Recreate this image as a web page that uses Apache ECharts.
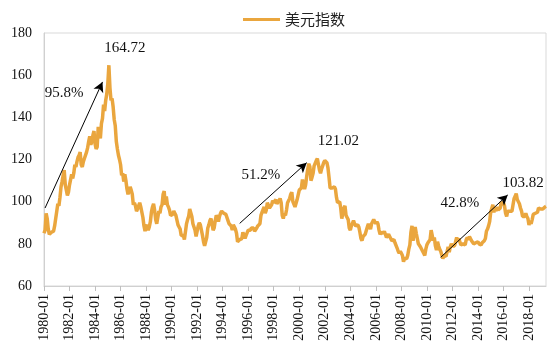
<!DOCTYPE html>
<html>
<head>
<meta charset="utf-8">
<script src="https://cdn.jsdelivr.net/npm/echarts@6/dist/echarts.min.js"></script>
<style>
  html, body { margin: 0; padding: 0; background: #fff; }
  #chart { width: 555px; height: 347px; }
</style>
</head>
<body>
<div id="chart"></div>
<script>
// US Dollar Index, monthly readings from 1980-01 to 2019-05
const seriesName = '美元指数';
const startYear = 1980;
const dxyValues = [
  85.0, 86.5, 94.5, 92.0, 87.0, 84.5, 84.3, 85.5, 85.0, 86.0, 88.5, 92.0,      // 1980
  95.5, 99.0, 98.0, 102.0, 107.0, 109.5, 112.5, 115.0, 108.0, 105.5, 103.0, 104.5, // 1981
  108.0, 110.5, 113.0, 111.0, 113.5, 117.5, 116.5, 119.0, 121.0, 122.0, 123.5, 117.5, // 1982
  116.5, 119.0, 120.5, 121.0, 123.5, 125.5, 128.5, 131.0, 127.0, 128.5, 131.5, 133.5, // 1983
  127.5, 125.0, 126.0, 135.5, 133.0, 130.0, 137.0, 139.5, 146.0, 143.0, 148.0, 151.0, // 1984
  156.0, 164.72, 154.0, 148.0, 149.0, 145.0, 139.0, 136.0, 128.5, 125.0, 122.0, 120.0, // 1985
  117.5, 112.5, 113.5, 109.5, 113.0, 110.0, 106.0, 103.5, 105.0, 107.0, 105.5, 103.5, // 1986
  98.5, 99.5, 98.0, 95.5, 96.5, 98.0, 99.5, 97.5, 97.5, 92.5, 88.5, 86.0,       // 1987
  88.0, 89.0, 86.5, 88.0, 90.5, 95.0, 97.5, 99.0, 96.0, 91.5, 89.5, 92.5,       // 1988
  95.5, 94.5, 97.5, 98.5, 103.5, 105.0, 98.5, 102.5, 98.5, 97.5, 96.0, 93.5,    // 1989
  93.0, 94.0, 95.5, 94.5, 93.5, 93.0, 89.0, 88.0, 87.0, 84.0, 83.5, 84.0,       // 1990
  82.0, 81.5, 89.5, 91.5, 93.0, 96.5, 97.0, 93.0, 89.5, 89.0, 86.5, 83.5,       // 1991
  86.0, 88.5, 90.0, 89.0, 86.5, 84.0, 81.0, 79.0, 78.5, 83.0, 87.5, 89.0,       // 1992
  91.0, 92.0, 89.5, 86.5, 87.5, 91.0, 93.5, 92.5, 90.5, 93.0, 94.5, 95.5,       // 1993
  96.0, 94.5, 95.0, 94.0, 93.5, 91.0, 89.5, 90.0, 88.5, 86.5, 89.0, 88.5,       // 1994
  87.0, 85.0, 81.0, 80.5, 82.0, 82.0, 82.5, 85.5, 84.0, 82.5, 84.0, 84.0,       // 1995
  86.5, 86.0, 86.5, 87.5, 88.0, 87.5, 86.0, 86.5, 87.5, 88.5, 88.0, 89.5,       // 1996
  93.5, 95.0, 95.0, 97.5, 94.5, 96.0, 99.5, 99.0, 97.0, 96.5, 98.5, 100.5,      // 1997
  99.5, 99.0, 101.0, 99.0, 99.5, 100.5, 101.5, 99.5, 93.5, 92.0, 94.5, 93.5,    // 1998
  96.0, 99.5, 100.5, 101.5, 103.5, 104.5, 100.0, 100.5, 97.5, 98.0, 101.0, 101.5, // 1999
  105.5, 106.0, 106.5, 110.5, 108.0, 106.0, 108.0, 112.0, 115.5, 118.0, 116.5, 110.0, // 2000
  111.5, 113.5, 117.0, 117.5, 119.5, 120.5, 121.02, 115.0, 113.5, 115.5, 117.0, 118.5, // 2001
  119.5, 119.5, 118.5, 116.0, 111.5, 106.5, 106.0, 106.5, 106.5, 107.0, 106.0, 102.0, // 2002
  99.5, 99.0, 100.0, 97.0, 92.0, 94.5, 97.0, 98.0, 93.5, 92.5, 91.5, 87.5,      // 2003
  86.5, 88.5, 89.0, 91.0, 89.5, 88.5, 89.0, 89.0, 88.0, 85.5, 82.5, 81.5,       // 2004
  83.5, 83.0, 84.5, 84.5, 88.0, 89.5, 88.0, 87.0, 89.5, 90.0, 91.5, 90.5,       // 2005
  89.5, 90.5, 89.5, 86.5, 84.5, 85.5, 85.0, 85.0, 86.0, 85.5, 83.0, 83.5,       // 2006
  84.5, 83.5, 82.5, 81.5, 82.0, 82.0, 80.5, 81.0, 78.0, 76.5, 75.5, 76.5,       // 2007
  75.5, 74.5, 71.5, 73.0, 72.5, 73.0, 74.5, 77.5, 79.5, 85.5, 88.5, 81.5,       // 2008
  85.5, 88.0, 85.0, 84.5, 80.0, 80.0, 78.5, 78.0, 76.5, 75.5, 74.5, 77.5,       // 2009
  79.5, 80.5, 81.0, 82.0, 86.5, 87.0, 81.5, 83.0, 79.0, 77.0, 81.0, 79.0,       // 2010
  77.5, 76.5, 76.0, 73.0, 74.5, 74.0, 74.0, 74.0, 78.5, 76.0, 78.5, 80.0,       // 2011
  79.0, 79.0, 79.0, 79.5, 83.0, 81.5, 82.5, 81.0, 79.5, 80.0, 80.0, 79.5,       // 2012
  79.5, 82.0, 83.0, 82.0, 83.5, 83.0, 81.5, 82.0, 80.0, 80.5, 80.5, 80.0,       // 2013
  81.0, 80.0, 80.0, 79.5, 80.5, 80.0, 81.5, 82.5, 86.0, 87.0, 88.5, 90.5,       // 2014
  95.0, 95.5, 98.5, 95.0, 97.0, 95.5, 97.5, 96.0, 96.5, 97.0, 100.0, 98.5,      // 2015
  99.5, 98.0, 94.5, 93.0, 95.5, 96.0, 95.5, 96.0, 95.5, 98.5, 101.5, 102.5,     // 2016
  103.82, 101.0, 100.5, 99.0, 97.0, 95.5, 93.0, 92.5, 93.0, 94.5, 93.0, 92.0,   // 2017
  89.0, 90.5, 89.5, 91.5, 94.0, 94.5, 94.5, 95.0, 95.0, 97.0, 97.0, 96.5,       // 2018
  96.0, 96.5, 97.0, 97.5, 97.8                                                  // 2019
];

// Y-axis range
const yMin = 60, yMax = 180, yStep = 20;

// Rally arrows: [start month, start value, end month, end value]
const rallyArrows = [
  ['1980-02', 97.0, '1984-08', 156.8],
  ['1995-05', 89.7, '2000-08', 118.5],
  ['2011-02', 73.6, '2016-05', 103.2]
];
// Gain labels beside each arrow: [month, value, text]
const gainLabels = [
  ['1981-08', 151.6, '95.8%'],
  ['1997-01', 112.7, '51.2%'],
  ['2012-08', 99.2, '42.8%']
];
// Peak values written above the line
const peakLabels = [
  ['1985-02', 164.72],
  ['2001-07', 121.02],
  ['2017-01', 103.82]
];

// Month categories "YYYY-MM"
const months = dxyValues.map((_, i) => {
  const y = startYear + Math.floor(i / 12);
  const m = (i % 12) + 1;
  return y + '-' + (m < 10 ? '0' + m : '' + m);
});

const serif = '"Liberation Serif", "Times New Roman", serif';
const lineColor = '#EAA63E';
const everyTwoYears = (idx, val) => val.slice(5) === '01' && parseInt(val, 10) % 2 === 0;

const peakOffsets = [[16, -17], [20, -16], [7, -11]];

const chart = echarts.init(document.getElementById('chart'), null, { renderer: 'canvas' });
chart.setOption({
  animation: false,
  backgroundColor: '#fff',
  legend: {
    left: 238,
    top: 7,
    itemWidth: 37,
    itemHeight: 3,
    itemGap: 10,
    icon: 'rect',
    textStyle: { fontFamily: '"Noto Sans CJK SC", sans-serif', fontSize: 15, color: '#222' },
    data: [seriesName]
  },
  grid: {
    left: 44, right: 9, top: 33, bottom: 61,
    show: true, borderColor: '#d9d9d9', borderWidth: 1, backgroundColor: 'transparent'
  },
  xAxis: {
    type: 'category',
    data: months,
    boundaryGap: false,
    axisLine: { lineStyle: { color: '#d0d0d0' } },
    axisTick: { interval: everyTwoYears, length: 5, lineStyle: { color: '#bfbfbf' } },
    axisLabel: {
      interval: everyTwoYears,
      rotate: 90,
      margin: 8,
      fontFamily: serif,
      fontSize: 14,
      color: '#111'
    },
    splitLine: { show: false }
  },
  yAxis: {
    type: 'value',
    min: yMin, max: yMax, interval: yStep,
    axisLine: { show: true, lineStyle: { color: '#d0d0d0' } },
    axisTick: { show: false },
    axisLabel: { margin: 12, fontFamily: serif, fontSize: 14, color: '#111' },
    splitLine: { show: false }
  },
  series: [{
    name: seriesName,
    type: 'line',
    data: dxyValues,
    symbol: 'none',
    color: lineColor,
    lineStyle: { color: lineColor, width: 3.5 },
    emphasis: { disabled: true },
    markLine: {
      silent: true,
      symbol: ['none', 'arrow'],
      symbolSize: [8, 10],
      lineStyle: { color: '#000', width: 1, type: 'solid' },
      label: { show: false },
      emphasis: { disabled: true },
      data: rallyArrows.map(a => [
        { coord: [a[0], a[1]] },
        { coord: [a[2], a[3]] }
      ])
    },
    markPoint: {
      silent: true,
      symbol: 'circle',
      symbolSize: 0,
      itemStyle: { color: 'transparent' },
      label: {
        show: true,
        position: 'inside',
        fontFamily: serif,
        fontSize: 15,
        color: '#111'
      },
      data: peakLabels.map((p, i) => ({
        coord: [p[0], p[1]],
        value: p[1],
        label: { formatter: p[1].toFixed(2), offset: peakOffsets[i] }
      })).concat(gainLabels.map(g => ({
        coord: [g[0], g[1]],
        value: g[1],
        label: { formatter: g[2] }
      })))
    }
  }]
});
</script>
</body>
</html>
